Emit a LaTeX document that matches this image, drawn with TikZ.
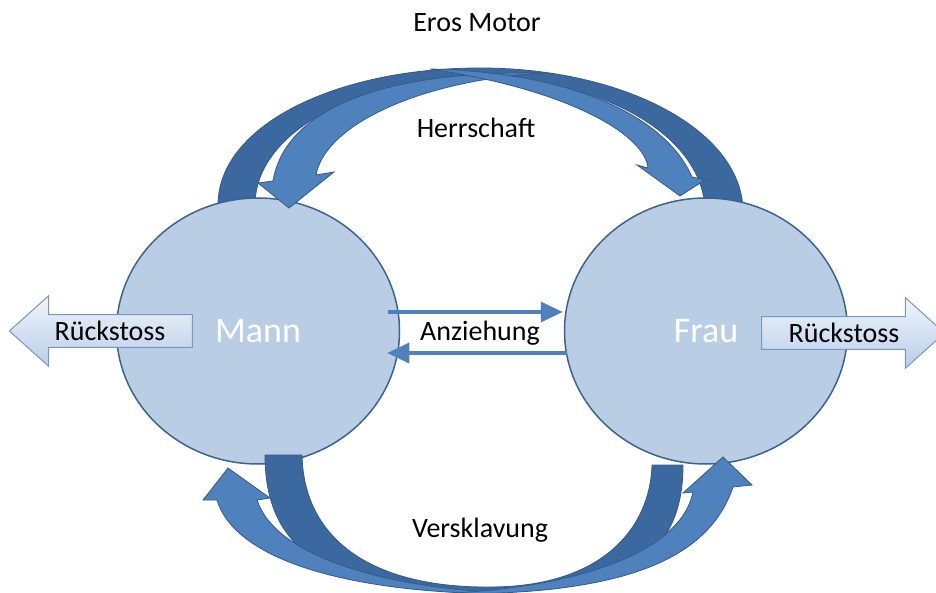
\documentclass[tikz,border=0pt]{standalone}
\usepackage{fontspec}
\setmainfont{Carlito}
\usetikzlibrary{arrows.meta,shapes.geometric,shapes.arrows,positioning}
\definecolor{circfill}{RGB}{185,205,229}
\definecolor{circline}{RGB}{62,98,142}
\definecolor{banddark}{RGB}{60,104,160}
\definecolor{bandlight}{RGB}{79,129,189}
\definecolor{bandline}{RGB}{52,90,138}
\definecolor{pushtop}{RGB}{240,245,251}
\definecolor{pushbot}{RGB}{184,205,233}
\definecolor{pushline}{RGB}{118,150,192}

\begin{document}
\begin{tikzpicture}[x=1pt,y=-1pt,node distance=448pt,
    person node/.style={ellipse,draw=circline,line width=1.5pt,fill=circfill,
      minimum width=283pt,minimum height=266pt,text=white,font=\fontsize{36}{40}\selectfont},
    push arrow/.style={single arrow,draw=pushline,line width=1pt,top color=pushtop,bottom color=pushbot,
      minimum height=183pt,single arrow head extend=19pt,single arrow tip angle=84,
      inner xsep=2pt,inner ysep=6pt,font=\fontsize{28}{32}\selectfont},
    word/.style={font=\fontsize{28}{32}\selectfont},
    pull edge/.style={draw=bandlight,line width=3.5pt,-{Triangle[length=22pt,width=20pt]}},
    dark band/.style={fill=banddark,draw=bandline,line width=0.8pt},
    light band/.style={fill=bandlight,draw=bandline,line width=0.8pt}]

  \useasboundingbox (0,0) rectangle (936,593);

  \path[dark band] (218,205) .. controls (218,126) and (335,68) .. (480,68)
    .. controls (625,68) and (743,131) .. (743,212) -- (705,212)
    .. controls (705,137) and (604,78) .. (480,78)
    .. controls (356,78) and (255,133) .. (255,205) -- cycle;

  \node[person node] (mann) at (258,331) {Mann};
  \node[person node] (frau) [right of=mann] {Frau};

  \path[light band] (545,73) .. controls (380,70) and (285,110) .. (273,181)
    -- (258,183) -- (289,208) -- (334,172) -- (316,175)
    .. controls (325,125) and (420,80) .. (545,73) -- cycle;
  \path[light band] (430,69) .. controls (570,72) and (665,115) .. (692,177)
    -- (705,180) -- (680,196) -- (637,165) -- (648,168)
    .. controls (645,135) and (570,90) .. (430,69) -- cycle;

  \path[dark band] (265,455) .. controls (265,560) and (340,592) .. (490,592)
    .. controls (620,592) and (683,560) .. (683,465) -- (652,465)
    .. controls (650,530) and (600,587) .. (490,587)
    .. controls (380,588) and (304,545) .. (302,455) -- cycle;
  \path[light band] (530,594) .. controls (350,596) and (235,560) .. (217,500)
    -- (203,500) -- (228,468) -- (270,498) -- (257,500)
    .. controls (275,555) and (380,590) .. (530,594) -- cycle;
  \path[light band] (430,594) .. controls (600,596) and (705,570) .. (733,487)
    -- (752,485) -- (723,457) -- (683,493) -- (693,492)
    .. controls (680,555) and (570,590) .. (430,594) -- cycle;

  \draw[pull edge] ([xshift=-12pt,yshift=19pt]mann.east) -- ([xshift=-1pt,yshift=19pt]frau.west);
  \draw[pull edge] ([xshift=3pt,yshift=-22pt]frau.west) -- ([xshift=-13pt,yshift=-22pt]mann.east);

  \node[push arrow,shape border rotate=180] (pushm) at (110,331) {Rückstoss};
  \node[push arrow] (pushf) at (844,333) {Rückstoss};

  \node[word] (eros) at (477,23) {Eros Motor};
  \node[word] (herr) at (476,128) {Herrschaft};
  \node[word] (anz) at (480,333) {Anziehung};
  \node[word] (versk) at (480,530) {Versklavung};
\end{tikzpicture}
\end{document}
